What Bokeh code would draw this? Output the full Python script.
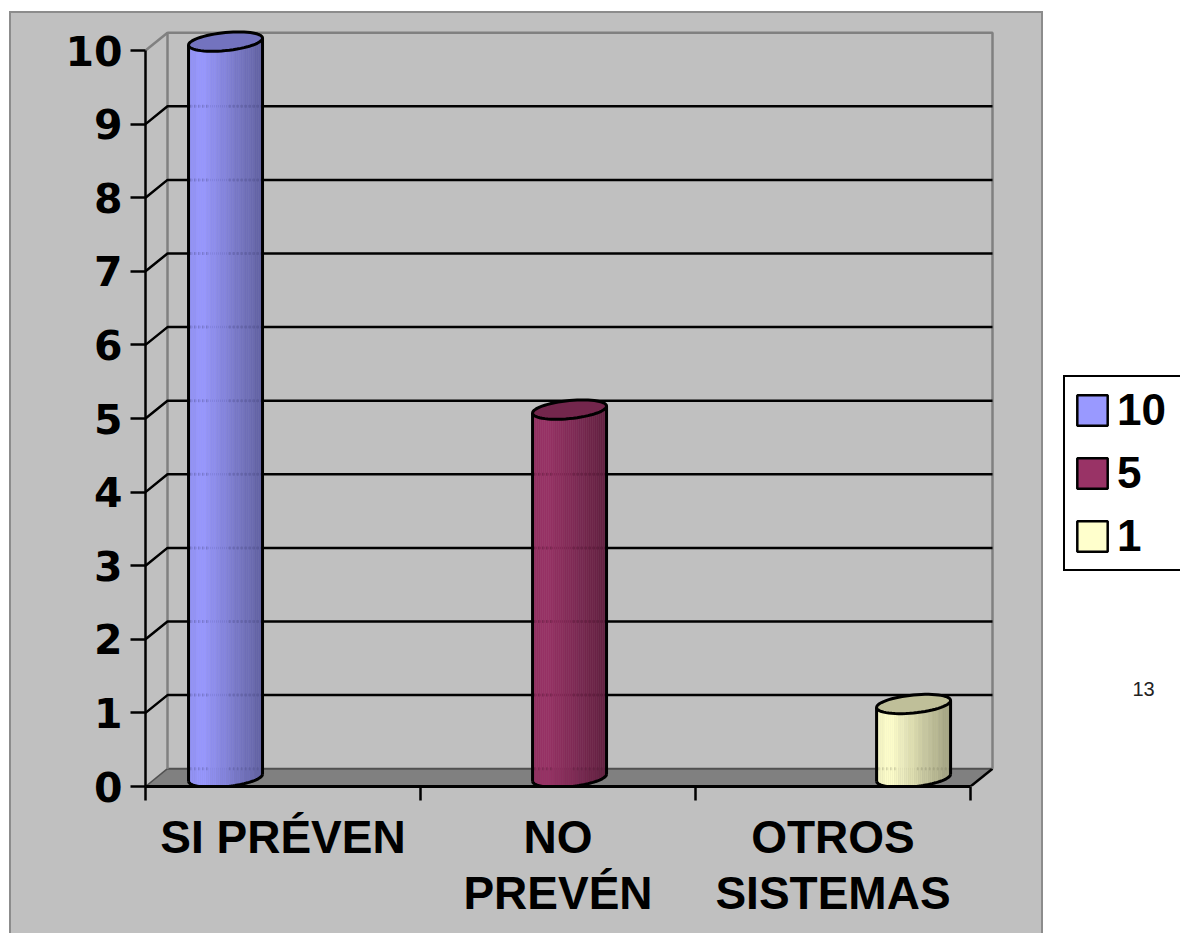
from bokeh.plotting import figure
from bokeh.layouts import row
from bokeh.models import (FixedTicker, Label, Legend, LegendItem, LinearAxis, Range1d)
from bokeh.embed import file_html
from bokeh.resources import INLINE
import math

# Chart content
categories = ["SI PRÉVEN", "NO\nPREVÉN", "OTROS\nSISTEMAS"]
series_names = ["10", "5", "1"]
series_values = [10, 5, 1]
bar_positions = [0.291, 1.542, 2.793]
y_ticks = [0, 1, 2, 3, 4, 5, 6, 7, 8, 9, 10]
x_edges = [0, 1, 2, 3]
page_number = "13"

# Colours
base_colors = ["#9999FF", "#993366", "#FFFFCC"]
panel_color = "#C0C0C0"
wall_color = "#808080"
floor_color = "#808080"

# Page geometry in pixels
W, H = 1180, 933
PANEL_L, PANEL_T, PANEL_R = 11, 13, 1041
SIDE_L = PANEL_R + 3
LEFT, BASE = 145, 786
PX_PER_CAT, PX_PER_UNIT = 275.0, 73.6
DEPTH_X, DEPTH_Y = 22.0, 17.8
RADIUS_X, RADIUS_Y, TILT = 37.0, 9.0, 3.5
STRIPES = 37

dx = 1 / PX_PER_CAT
dy = 1 / PX_PER_UNIT
back_x, back_y = DEPTH_X * dx, DEPTH_Y * dy
mid_y = back_y / 2
x_max = x_edges[-1]
y_max = y_ticks[-1]

panel_w = PANEL_R - PANEL_L
panel_h = H - PANEL_T

p = figure(width=panel_w, height=panel_h, output_backend="svg", toolbar_location=None,
           x_range=Range1d(0, (PANEL_R - LEFT) * dx), y_range=Range1d(0, (BASE - PANEL_T) * dy),
           frame_width=PANEL_R - LEFT, frame_height=BASE - PANEL_T,
           min_border_left=LEFT - PANEL_L, min_border_right=0, min_border_top=0,
           min_border_bottom=H - BASE, outline_line_color=None,
           background_fill_color=panel_color, border_fill_color=panel_color,
           x_axis_type=None, y_axis_type=None,
           margin=(PANEL_T, 0, 0, PANEL_L),
           styles={"outline": "2px solid #8C8C8C", "background-color": panel_color})
p.grid.visible = False

# Floor of the 3-D box
p.patch([0, back_x, x_max + back_x, x_max], [0, back_y, back_y, 0],
        fill_color=floor_color, line_color=None)
p.line([back_x, x_max + back_x], [back_y, back_y], line_color="#505050", line_width=2)
p.line([0, back_x], [0, back_y], line_color="#505050", line_width=1.5)
p.line([x_max, x_max + back_x], [0, back_y], line_color="black", line_width=2.5)

# Back and side walls
p.line([back_x, back_x, x_max + back_x, x_max + back_x],
       [back_y, y_max + back_y, y_max + back_y, back_y],
       line_color=wall_color, line_width=2.5)
p.line([0, back_x], [y_max, y_max + back_y], line_color=wall_color, line_width=2.5)

# Gridlines with their returns on the side wall
for t in y_ticks[1:-1]:
    p.line([0, back_x, x_max + back_x], [t, t + back_y, t + back_y],
           line_color="black", line_width=2.5)


def shade(t):
    """Brightness across the width of a cylinder, t from 0 (left) to 1 (right), in coarse bands."""
    if t < 0.18:
        k = 0.93 + 0.07 * t / 0.18
    else:
        k = 1.0 - 0.37 * (t - 0.18) / 0.82
    return round(k / 0.03) * 0.03


def scaled(color, k):
    r, g, b = (int(color[i:i + 2], 16) for i in (1, 3, 5))
    return "#%02x%02x%02x" % (min(255, round(r * k)), min(255, round(g * k)), min(255, round(b * k)))


def rim(center, level, t0, t1, n=60):
    """Tilted ellipse section, in data units, for a cylinder end."""
    ts = [t0 + (t1 - t0) * i / n for i in range(n + 1)]
    xs = [center + RADIUS_X * dx * math.cos(t) for t in ts]
    ys = [level + mid_y + (TILT * math.cos(t) - RADIUS_Y * math.sin(t)) * dy for t in ts]
    return xs, ys


# Cylinders: shaded vertical stripes, side edges, lower rim and a filled cap
for center, val, col in zip(bar_positions, series_values, base_colors):
    w = 2 * RADIUS_X * dx / STRIPES
    lefts, rights, bottoms, tops, fills = [], [], [], [], []
    for i in range(STRIPES):
        xl = center - RADIUS_X * dx + i * w
        c = max(-1.0, min(1.0, (xl + w / 2 - center) / (RADIUS_X * dx)))
        s = math.sqrt(1 - c * c)
        lefts.append(xl)
        rights.append(xl + w)
        bottoms.append(mid_y + (TILT * c - RADIUS_Y * s) * dy)
        tops.append(val + mid_y + TILT * c * dy)
        fills.append(scaled(col, shade((i + 0.5) / STRIPES)))
    p.quad(left=lefts, right=rights, bottom=bottoms, top=tops,
           fill_color=fills, line_color=fills, line_width=0.5)

    # Faint ticks left on the surface where the gridlines pass behind
    for t in y_ticks[:-1]:
        if t < val:
            for a, b in ((-0.95, -0.45), (0.1, 0.95)):
                p.line([center + a * RADIUS_X * dx, center + b * RADIUS_X * dx],
                       [t + back_y, t + back_y], line_color=scaled(col, 0.5),
                       line_width=3, line_alpha=0.45, line_dash="1 3")

    lx, ly = rim(center, 0, 0, math.pi)
    p.line(lx, ly, line_color="black", line_width=3)
    for side in (-1, 1):
        xe = center + side * RADIUS_X * dx
        p.line([xe, xe], [mid_y + side * TILT * dy, val + mid_y + side * TILT * dy],
               line_color="black", line_width=3)
    cx, cy = rim(center, val, 0, 2 * math.pi)
    p.patch(cx, cy, fill_color=scaled(col, 0.75), line_color="black", line_width=3)

# Value axis
y_axis = LinearAxis(ticker=FixedTicker(ticks=y_ticks), bounds=(y_ticks[0], y_ticks[-1]),
                    axis_line_color="black", axis_line_width=2.5,
                    major_tick_line_color="black", major_tick_line_width=2.5,
                    major_tick_in=0, major_tick_out=15, minor_tick_out=0, minor_tick_in=0,
                    major_label_standoff=8, major_label_text_color="black",
                    major_label_text_font="DejaVu Sans", major_label_text_font_style="bold",
                    major_label_text_font_size="41px")
p.add_layout(y_axis, "left")

# Category axis: tick marks on the category edges, labels at the category middles
mids = [(a + b) / 2 for a, b in zip(x_edges[:-1], x_edges[1:])]
x_axis = LinearAxis(ticker=FixedTicker(ticks=mids, minor_ticks=x_edges),
                    bounds=(x_edges[0], x_edges[-1]),
                    major_label_overrides=dict(zip(mids, categories)),
                    axis_line_color="black", axis_line_width=3,
                    major_tick_in=0, major_tick_out=0,
                    minor_tick_line_color="black", minor_tick_line_width=2.5,
                    minor_tick_in=0, minor_tick_out=14,
                    major_label_standoff=10, major_label_text_color="black",
                    major_label_text_font="Liberation Sans", major_label_text_font_style="bold",
                    major_label_text_font_size="46px", major_label_text_line_height=1.08)
p.add_layout(x_axis, "below")

# Side strip with the legend and the page number; it starts just clear of the panel border
side_w = W - SIDE_L
side = figure(width=side_w, height=H, output_backend="svg", toolbar_location=None,
              x_range=Range1d(0, 1), y_range=Range1d(0, 1),
              min_border=0, outline_line_color=None, x_axis_type=None, y_axis_type=None,
              background_fill_color="white", border_fill_color="white",
              margin=(0, 0, 0, SIDE_L - PANEL_R))
side.grid.visible = False

# Swatch renderers stay outside the visible range; only their legend keys are seen.
# The strip's frame shares its lower edge with the chart's frame, hence the BASE offsets.
swatches = [side.quad(left=[-2], right=[-1], top=[1], bottom=[0], fill_color=c,
                      line_color="black", line_width=2.5) for c in base_colors]
legend = Legend(items=[LegendItem(label=n, renderers=[r]) for n, r in zip(series_names, swatches)],
                location=(1063 - SIDE_L, BASE - 571), orientation="vertical",
                background_fill_color="white", background_fill_alpha=1,
                border_line_color="black", border_line_alpha=1, border_line_width=2.5,
                glyph_width=38, glyph_height=38, label_height=38, label_width=56,
                label_standoff=6, spacing=13, padding=8, margin=0,
                label_text_font="Liberation Sans", label_text_font_style="bold",
                label_text_font_size="44px", label_text_color="black")
side.add_layout(legend, "center")

side.add_layout(Label(x=1132 - SIDE_L, y=BASE - 688, x_units="screen", y_units="screen",
                      text=page_number, text_font="Liberation Sans", text_font_size="20px",
                      text_color="#222222", text_baseline="middle"))

layout = row(p, side, margin=0, spacing=0)
open("out.html", "w").write(file_html(layout, INLINE))
